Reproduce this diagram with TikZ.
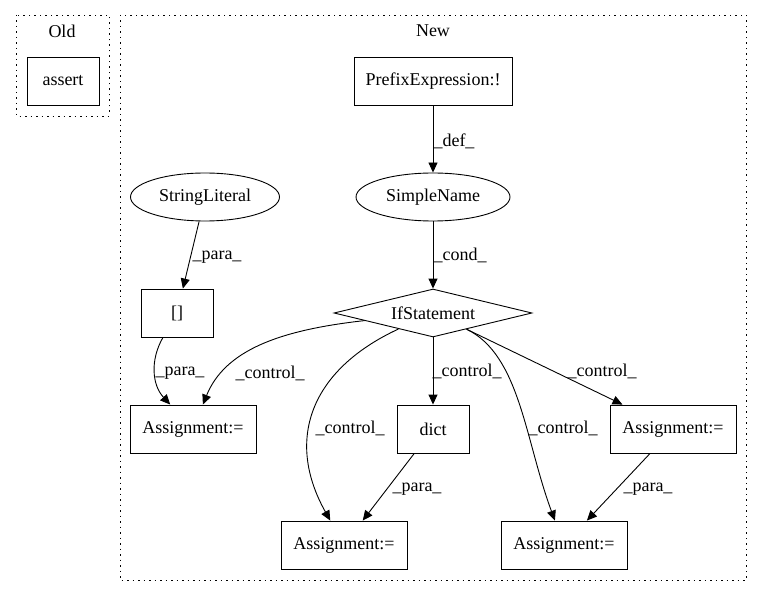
\documentclass[tikz,border=0pt]{standalone}
\usepackage{fontspec}
\setmainfont{Liberation Serif}
\usetikzlibrary{shapes.geometric,arrows.meta}

\begin{document}
\begin{tikzpicture}[x=1pt,y=-1pt,font=\fontsize{18}{21}\selectfont]
  \tikzset{BOX/.style={rectangle, draw=black, line width=0.9pt, minimum height=48pt, inner sep=0pt}}
  \tikzset{ELL/.style={ellipse, draw=black, line width=0.9pt, minimum height=48pt, inner sep=0pt}}
  \tikzset{DIA/.style={diamond, draw=black, line width=0.9pt, aspect=4, minimum width=198pt, minimum height=48pt, inner sep=0pt}}
  \tikzset{CL/.style={draw=black, line width=0.9pt, dash pattern=on 1.5pt off 4pt}}
  \tikzset{E/.style={line width=0.9pt, -{Triangle[length=10pt,width=9pt]}}}
  \tikzset{LBL/.style={inner sep=0pt}}
  \useasboundingbox (0,0) rectangle (763,596);

  % clusters
  \draw[CL] (16,15) rectangle (109,116);
  \draw[CL] (120,15) rectangle (746,580);
  \node (old) at (62,31) {Old};
  \node (new) at (433,31) {New};

  \node [BOX, minimum width=72pt]  (assert) at (63,81)   {assert};
  \node [BOX, minimum width=158pt] (pref)   at (433,81)  {PrefixExpression:!};
  \node [ELL, minimum width=154pt] (sn)     at (433,197) {SimpleName};
  \node [ELL, minimum width=149pt] (sl)     at (205,197) {StringLiteral};
  \node [BOX, minimum width=72pt]  (sq)     at (177,313) {[]};
  \node [DIA]                      (ifs)    at (433,313) {IfStatement};
  \node [BOX, minimum width=126pt] (a1)     at (193,429) {Assignment:=};
  \node [BOX, minimum width=72pt]  (dict)   at (433,429) {dict};
  \node [BOX, minimum width=126pt] (a4)     at (673,429) {Assignment:=};
  \node [BOX, minimum width=126pt] (a2)     at (344,545) {Assignment:=};
  \node [BOX, minimum width=126pt] (a3)     at (564,545) {Assignment:=};

  \foreach \from/\to in {pref/sn,sn/ifs,sl/sq,ifs/dict,ifs/a4,dict/a2,a4/a3}
    \draw[E] (\from) -- (\to);

  \draw[E] (sq) .. controls (150,360) and (152,385) .. (a1);
  \draw[E] (ifs) .. controls (280,330) and (225,350) .. (a1);
  \draw[E] (ifs) .. controls (310,370) and (285,440) .. (a2);
  \draw[E] (ifs) .. controls (520,355) and (525,440) .. (a3);

  \foreach \x/\y/\t [count=\i] in {454/141/\_def\_, 460/255/\_cond\_, 217/257/\_para\_,
      180/373/\_para\_, 270/373/\_control\_, 467/371/\_control\_, 602/371/\_control\_,
      350/428/\_control\_, 563/428/\_control\_, 417/489/\_para\_, 648/489/\_para\_}
    \node[LBL] (l\i) at (\x,\y) {\t};
\end{tikzpicture}
\end{document}
